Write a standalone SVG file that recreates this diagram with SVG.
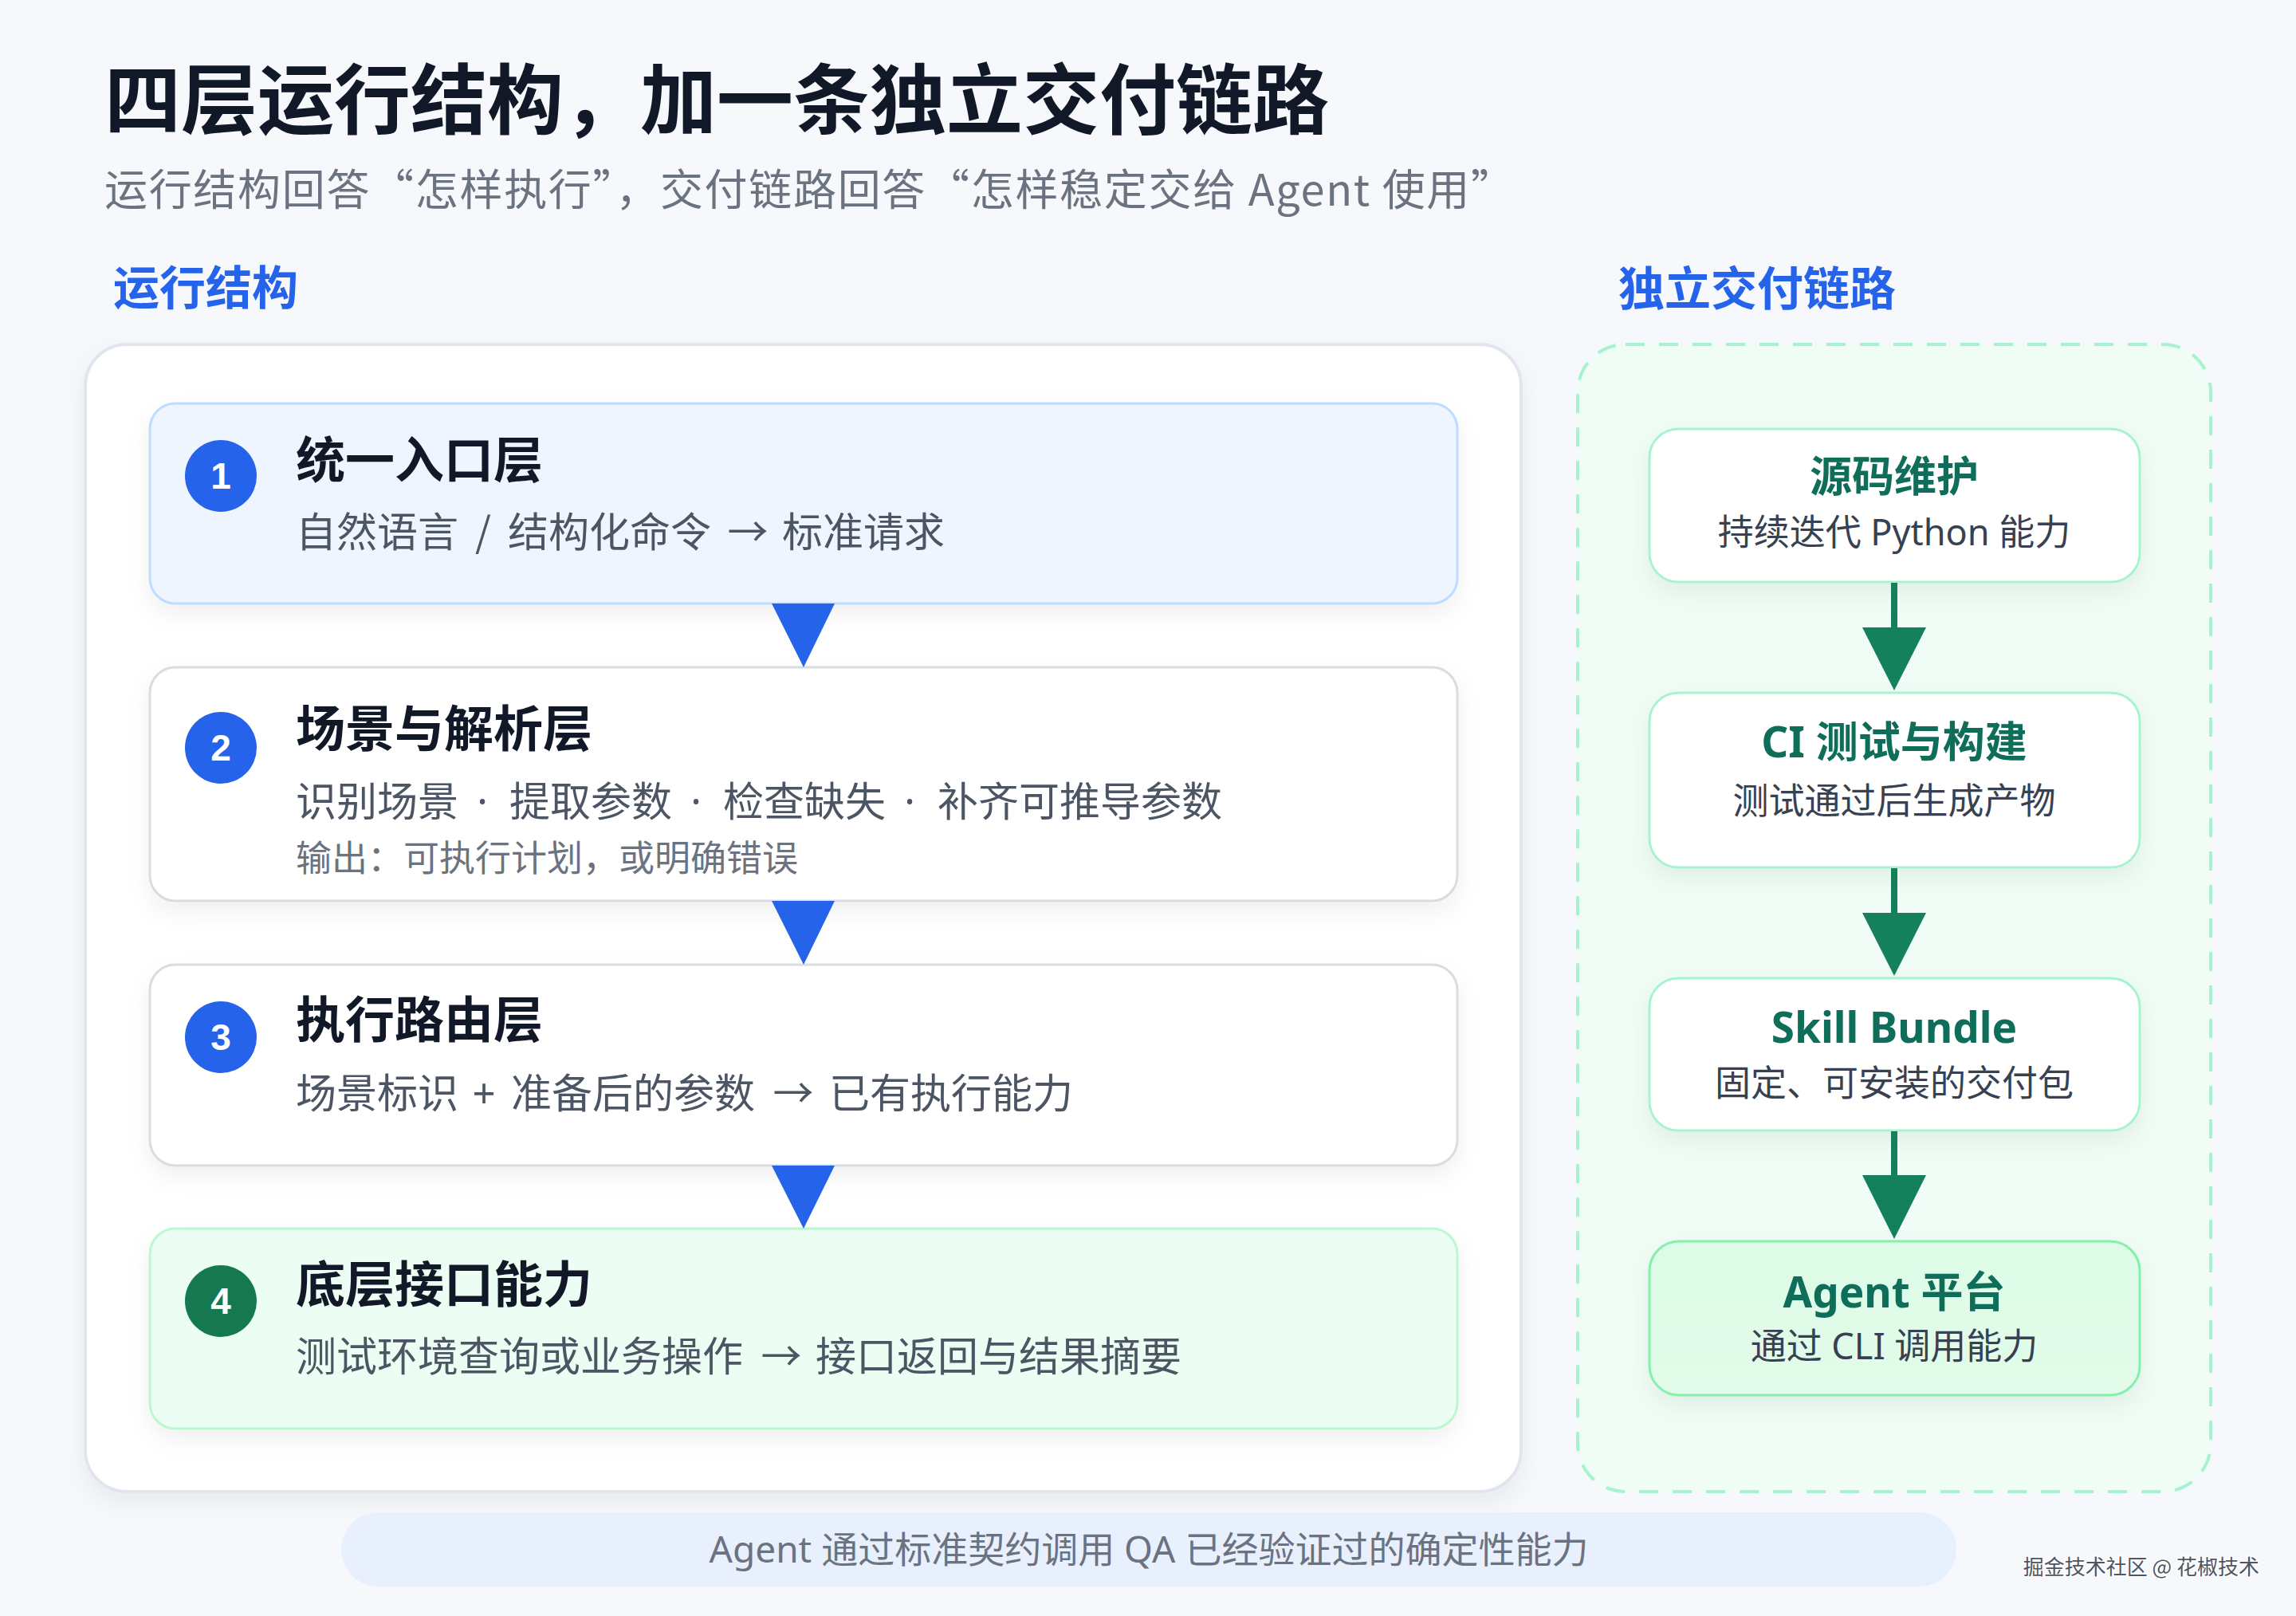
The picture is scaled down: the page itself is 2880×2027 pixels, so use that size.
<svg xmlns="http://www.w3.org/2000/svg" width="2880" height="2027" viewBox="0 0 2880 2027">
<defs>
<style>
.cjk{font-family:"Noto Sans CJK SC","Noto Sans",sans-serif}
.lat{font-family:"Noto Sans","Noto Sans CJK SC",sans-serif}
.h1{font-size:96px;font-weight:700;fill:#111827}
.sub{font-size:54px;fill:#6b7280}
.sec{font-size:58px;font-weight:700;fill:#2563eb}
.nt{font-size:62px;font-weight:700;fill:#111827}
.nd{font-size:51px;fill:#4b5563}
.sym{font-size:51px;fill:#4b5563;text-anchor:middle}
.nd2{font-size:45px;fill:#6b7280}
.badge{font-size:46px;font-weight:700;fill:#ffffff;font-family:"Liberation Sans",Arial,sans-serif}
.rt{font-size:53px;font-weight:700;fill:#0f6e5a}
.rd{font-size:45px;fill:#374151}
.pill{font-size:46px;fill:#6b7280}
.wm{font-size:26px;fill:#4f5561}
.card{filter:url(#sh)}
</style>
<filter id="sh" x="-10%" y="-20%" width="120%" height="150%">
<feDropShadow dx="0" dy="12" stdDeviation="14" flood-color="#0f172a" flood-opacity="0.06"/>
</filter>
<linearGradient id="gD" x1="0" y1="0" x2="0" y2="1">
<stop offset="0" stop-color="#dcfce7"/>
<stop offset="1" stop-color="#e3fbea"/>
</linearGradient>
</defs>
<rect x="0" y="0" width="2880" height="2027" fill="#f6f8fc"/>

<text class="cjk h1" x="131" y="160">四层运行结构，加一条独立交付链路</text>
<text class="cjk sub" x="131" y="258" textLength="1768" lengthAdjust="spacing">运行结构回答“怎样执行”，交付链路回答“怎样稳定交给 Agent 使用”</text>
<text class="cjk sec" x="142" y="382">运行结构</text>
<text class="cjk sec" x="2030" y="383">独立交付链路</text>

<g id="run-panel">
<rect x="107" y="432" width="1801" height="1439" rx="52" fill="#ffffff" stroke="#e1e5ef" stroke-width="4" class="card"/>
</g>
<g id="delivery-panel">
<rect x="1979" y="432" width="794" height="1439" rx="60" fill="#effdf6" stroke="#a7f3d0" stroke-width="4" stroke-dasharray="24 18"/>
</g>

<g id="layer1">
<rect x="188" y="506" width="1640" height="251" rx="32" fill="#eef5ff" stroke="#bfdbfe" stroke-width="3" class="card"/>
<circle cx="277" cy="597" r="45" fill="#2563eb"/>
<text class="badge" x="277" y="613" text-anchor="middle">1</text>
<text class="cjk nt" x="371" y="600">统一入口层</text>
<text class="cjk nd" y="686"><tspan x="371">自然语言</tspan><tspan x="637">结构化命令</tspan><tspan x="981">标准请求</tspan></text>
<text class="cjk sym" x="606" y="686">/</text>
<text class="cjk sym" x="938" y="686">→</text>
</g>

<g id="layer2">
<rect x="188" y="837" width="1640" height="293" rx="32" fill="#ffffff" stroke="#d9dce3" stroke-width="3" class="card"/>
<circle cx="277" cy="938" r="45" fill="#2563eb"/>
<text class="badge" x="277" y="954" text-anchor="middle">2</text>
<text class="cjk nt" x="371" y="937">场景与解析层</text>
<text class="cjk nd" y="1024"><tspan x="371">识别场景</tspan><tspan x="639">提取参数</tspan><tspan x="907">检查缺失</tspan><tspan x="1176">补齐可推导参数</tspan></text>
<text class="lat sym" x="605" y="1024">·</text>
<text class="lat sym" x="873" y="1024">·</text>
<text class="lat sym" x="1141" y="1024">·</text>
<text class="cjk nd2" x="371" y="1093">输出：可执行计划，或明确错误</text>
</g>

<g id="layer3">
<rect x="188" y="1210" width="1640" height="252" rx="32" fill="#ffffff" stroke="#d9dce3" stroke-width="3" class="card"/>
<circle cx="277" cy="1301" r="45" fill="#2563eb"/>
<text class="badge" x="277" y="1317" text-anchor="middle">3</text>
<text class="cjk nt" x="371" y="1302">执行路由层</text>
<text class="cjk nd" y="1390"><tspan x="371">场景标识</tspan><tspan x="641">准备后的参数</tspan><tspan x="1040">已有执行能力</tspan></text>
<text class="lat sym" x="607" y="1390">+</text>
<text class="cjk sym" x="995" y="1390">→</text>
</g>

<g id="layer4">
<rect x="188" y="1541" width="1640" height="251" rx="32" fill="#ecfdf3" stroke="#bbf7d0" stroke-width="3" class="card"/>
<circle cx="277" cy="1632" r="45" fill="#15784f"/>
<text class="badge" x="277" y="1648" text-anchor="middle">4</text>
<text class="cjk nt" x="371" y="1634">底层接口能力</text>
<text class="cjk nd" y="1720"><tspan x="371">测试环境查询或业务操作</tspan><tspan x="1023">接口返回与结果摘要</tspan></text>
<text class="cjk sym" x="980" y="1720">→</text>
</g>

<g id="src">
<rect x="2069" y="538" width="615" height="192" rx="36" fill="#ffffff" stroke="#a7f3d0" stroke-width="3" class="card"/>
<text class="cjk rt" x="2376" y="617" text-anchor="middle">源码维护</text>
<text class="lat rd" x="2376" y="684" text-anchor="middle">持续迭代 Python 能力</text>
</g>
<g id="ci">
<rect x="2069" y="869" width="615" height="219" rx="36" fill="#ffffff" stroke="#a7f3d0" stroke-width="3" class="card"/>
<text class="lat rt" x="2376" y="950" text-anchor="middle">CI 测试与构建</text>
<text class="cjk rd" x="2376" y="1021" text-anchor="middle">测试通过后生成产物</text>
</g>
<g id="bundle">
<rect x="2069" y="1227" width="615" height="191" rx="36" fill="#ffffff" stroke="#a7f3d0" stroke-width="3" class="card"/>
<text class="lat rt" x="2376" y="1308" text-anchor="middle">Skill Bundle</text>
<text class="cjk rd" x="2376" y="1375" text-anchor="middle">固定、可安装的交付包</text>
</g>
<g id="agent">
<rect x="2069" y="1557" width="615" height="193" rx="37" fill="url(#gD)" stroke="#86efac" stroke-width="3" class="card"/>
<text class="lat rt" x="2376" y="1640" text-anchor="middle">Agent 平台</text>
<text class="lat rd" x="2376" y="1705" text-anchor="middle">通过 CLI 调用能力</text>
</g>

<g id="connectors">
<polygon points="968,757 1047,757 1008,837" fill="#2563eb"/>
<polygon points="968,1130 1047,1130 1008,1210" fill="#2563eb"/>
<polygon points="968,1462 1047,1462 1008,1541" fill="#2563eb"/>
<g fill="#15805c" stroke="none">
<rect x="2372" y="731" width="8" height="58"/>
<polygon points="2336,787 2416,787 2376,866"/>
<rect x="2372" y="1089" width="8" height="58"/>
<polygon points="2336,1145 2416,1145 2376,1224"/>
<rect x="2372" y="1419" width="8" height="57"/>
<polygon points="2336,1474 2416,1474 2376,1554"/>
</g>
</g>

<g id="footer">
<rect x="428" y="1897" width="2026" height="93" rx="46.5" fill="#e8f0fd"/>
<text class="lat pill" x="1441" y="1960" text-anchor="middle">Agent 通过标准契约调用 QA 已经验证过的确定性能力</text>
</g>
<text class="cjk wm" x="2834" y="1975" text-anchor="end" stroke="#ffffff" stroke-width="3" paint-order="stroke">掘金技术社区 @ 花椒技术</text>
</svg>
